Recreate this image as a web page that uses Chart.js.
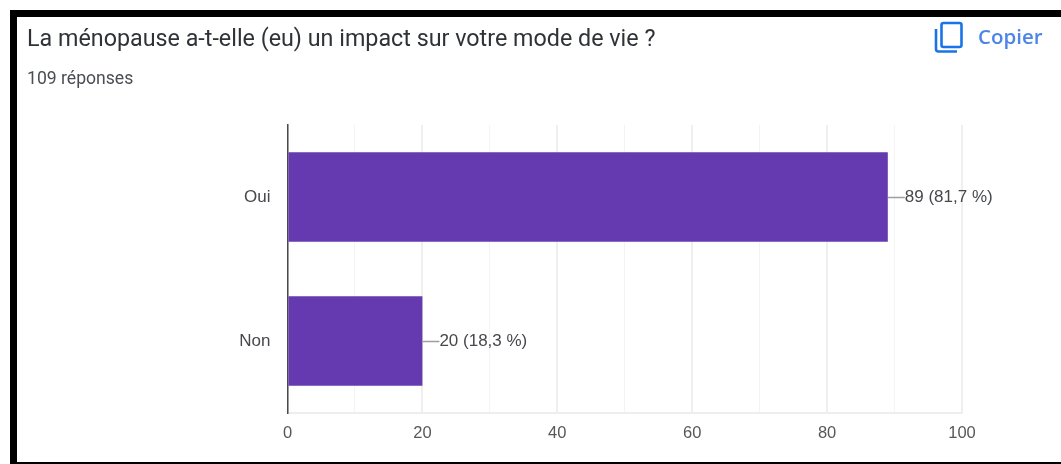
<!DOCTYPE html>
<html lang="fr">
<head>
<meta charset="utf-8">
<title>La ménopause a-t-elle (eu) un impact sur votre mode de vie ?</title>
<script src="https://cdn.jsdelivr.net/npm/chart.js@4"></script>
<style>
  html, body { margin: 0; padding: 0; background: #fff; overflow: hidden; }
  #page { position: relative; width: 1061px; height: 464px; overflow: hidden; }
  .edge { position: absolute; background: #000; }
  #edgeTop { left: 10px; top: 10px; width: 1051px; height: 7px; }
  #edgeLeft { left: 10px; top: 10px; width: 7px; height: 454px; }
  #edgeBottom { left: 10px; top: 462px; width: 1051px; height: 2px; }
  #title { position: absolute; left: 27px; top: 24px; font: 23.3px Roboto, sans-serif; color: #2f3237; white-space: nowrap; }
  #count { position: absolute; left: 27px; top: 68px; font: 17.6px Roboto, sans-serif; color: #4a4d52; white-space: nowrap; }
  #copyIcon { position: absolute; left: 934px; top: 21px; }
  #copy { position: absolute; left: 978px; top: 22px; font: 600 20.5px "Open Sans", sans-serif; color: #4c84e8; white-space: nowrap; }
  canvas { position: absolute; left: 0; top: 0; }
</style>
</head>
<body>
<div id="page">
  <canvas id="myChart" width="1061" height="464"></canvas>
  <div class="edge" id="edgeTop"></div>
  <div class="edge" id="edgeLeft"></div>
  <div class="edge" id="edgeBottom"></div>
  <div id="title">La ménopause a-t-elle (eu) un impact sur votre mode de vie ?</div>
  <div id="count">109 réponses</div>
  <svg id="copyIcon" width="30" height="33" viewBox="0 0 30 33" fill="none" stroke="#1a73e8" stroke-width="2.6">
    <rect x="7.5" y="2" width="20" height="24" rx="2"></rect>
    <path d="M2 8v20a2.5 2.5 0 0 0 2.5 2.5H23"></path>
  </svg>
  <div id="copy">Copier</div>
</div>
<script>
var categories = ["Oui", "Non"];
var counts = [89, 20];
var countLabels = ["89 (81,7 %)", "20 (18,3 %)"];
var xTickLabels = { 0: "0", 20: "20", 40: "40", 60: "60", 80: "80", 100: "100" };

// leader line and count label at the end of each bar
var barLabels = {
  id: "barLabels",
  afterDatasetsDraw: function (chart) {
    var ctx = chart.ctx;
    var bars = chart.getDatasetMeta(0).data;
    ctx.save();
    ctx.font = "17px 'Liberation Sans', Arial, sans-serif";
    ctx.textBaseline = "middle";
    ctx.textAlign = "left";
    bars.forEach(function (bar, i) {
      ctx.strokeStyle = "#9e9e9e";
      ctx.lineWidth = 1.5;
      ctx.beginPath();
      ctx.moveTo(bar.x, Math.round(bar.y) + 0.5);
      ctx.lineTo(bar.x + 17, Math.round(bar.y) + 0.5);
      ctx.stroke();
      ctx.fillStyle = "#46484c";
      ctx.fillText(countLabels[i], bar.x + 17, bar.y + 0.5);
    });
    ctx.restore();
  }
};

new Chart(document.getElementById("myChart"), {
  type: "bar",
  data: {
    labels: categories,
    datasets: [{
      data: counts,
      backgroundColor: "#6539af",
      borderWidth: 0,
      categoryPercentage: 0.62,
      barPercentage: 1
    }]
  },
  options: {
    indexAxis: "y",
    responsive: false,
    animation: false,
    layout: { padding: { top: 125, right: 99, bottom: 21, left: 0 } },
    plugins: { legend: { display: false }, tooltip: { enabled: false } },
    scales: {
      x: {
        min: 0,
        max: 100,
        afterFit: function (scale) { scale.height = 30; },
        ticks: {
          stepSize: 10,
          autoSkip: false,
          maxRotation: 0,
          padding: 11,
          color: "#555759",
          font: { family: "'Liberation Sans', Arial, sans-serif", size: 16.5 },
          callback: function (value) { return xTickLabels[value] || ""; }
        },
        grid: {
          drawTicks: false,
          lineWidth: function (c) { return c.tick.value % 20 === 0 ? 2 : 1; },
          color: function (c) { return c.tick.value % 20 === 0 ? "#efefef" : "#f4f4f4"; }
        },
        border: { display: true, color: "#eeeeee", width: 2 }
      },
      y: {
        afterFit: function (scale) { scale.width = 287.5; },
        ticks: {
          padding: 17,
          color: "#46484c",
          font: { family: "'Liberation Sans', Arial, sans-serif", size: 17 }
        },
        grid: { display: false, drawTicks: false },
        border: { display: true, color: "#4a4a4a", width: 1.5 }
      }
    }
  },
  plugins: [barLabels]
});
</script>
</body>
</html>
